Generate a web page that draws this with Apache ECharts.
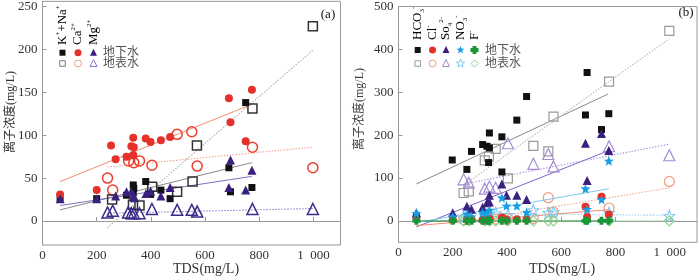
<!DOCTYPE html>
<html><head><meta charset="utf-8">
<script src="https://cdn.jsdelivr.net/npm/echarts@6/dist/echarts.min.js"></script>
<style>html,body{margin:0;padding:0;background:#fff}#c{width:700px;height:276px}</style>
</head><body><div id="c"></div>
<script>
// ---------- tick values ----------
const xTicks = [0, 200, 400, 600, 800, 1000];
const yTicksA = [0, 50, 100, 150, 200, 250];
const yTicksB = [0, 100, 200, 300, 400, 500];

// ---------- panel (a) data: [TDS, concentration] ----------
const knaGround = [[65,27],[200,26],[310,30],[335,42],[337,38],[335,33],[381,46],[399,31],[437,36],[471,26],[688,62],[694,34],[750,138],[773,39]];
const knaSurface = [[257,25],[334,19],[358,18],[405,40],[497,34],[554,46],[570,88],[775,131],[998,227]];
const caGround = [[65,31],[200,36],[253,88],[270,72],[310,75],[328,87],[335,97],[337,86],[335,77],[381,96],[399,92],[437,94],[471,98],[688,143],[694,115],[750,93],[773,153]];
const caSurface = [[240,50],[259,36],[318,70],[337,68],[358,70],[404,65],[497,101],[551,104],[571,64],[775,86],[998,62]];
const mgGround = [[65,26],[200,26],[270,29],[310,34],[328,34],[336,30],[338,27],[382,32],[399,35],[437,29],[471,39],[688,39],[694,71],[750,36],[773,59]];
const mgSurface = [[240,10],[259,12],[316,10],[328,9],[337,9],[358,9],[404,14],[497,13],[551,13],[571,11],[775,14],[998,14]];
// trend lines (a), endpoints
const knaGroundFit = [[65,13],[773,68]];
const knaSurfaceFit = [[239,-8],[998,199]];
const caGroundFit = [[65,46],[773,136]];
const caSurfaceFit = [[239,63],[998,86]];
const mgGroundFit = [[65,18],[773,52]];
const mgSurfaceFit = [[239,9],[998,14.5]];

// ---------- panel (b) data ----------
const hco3Ground = [[66,9],[198,142],[252,120],[269,162],[310,178],[326,174],[335,205],[335,170],[332,136],[381,196],[381,114],[436,235],[472,290],[689,247],[695,346],[748,213],[775,250]];
const hco3Surface = [[240,65],[259,69],[318,141],[333,150],[358,168],[403,99],[497,175],[552,162],[571,243],[776,325],[998,443]];
const clGround = [[66,8],[200,2],[252,4],[269,3],[310,2],[326,3],[335,5],[381,8],[398,3],[436,4],[472,3],[689,33],[695,9],[748,56],[775,15]];
const clSurface = [[240,3],[259,3],[318,4],[335,3],[358,4],[403,5],[497,6],[552,54],[571,20],[776,30],[998,92]];
const so4Ground = [[66,19],[200,19],[252,34],[269,27],[310,32],[326,42],[335,60],[335,44],[381,86],[398,60],[436,60],[472,50],[689,181],[695,94],[748,204],[775,164]];
const so4Surface = [[240,97],[259,89],[318,75],[335,80],[358,77],[403,181],[497,133],[552,156],[571,127],[776,174],[998,153]];
const no3Ground = [[66,18],[200,10],[252,16],[269,10],[310,19],[326,18],[335,25],[381,54],[398,35],[436,35],[472,20],[689,75],[695,27],[748,50],[775,140]];
const no3Surface = [[240,8],[259,16],[318,12],[335,16],[358,18],[403,14],[497,25],[552,19],[571,21],[776,19],[998,12]];
const fGround = [[66,0],[200,0],[252,0],[269,0],[310,0],[326,0],[335,0],[381,0],[398,0],[436,0],[472,0],[689,0],[695,0],[748,0],[775,0]];
const fSurface = [[240,0],[259,0],[318,0],[335,0],[358,0],[403,0],[497,0],[552,0],[571,0],[776,0],[998,0]];
// trend lines (b)
const hco3GroundFit = [[66,86],[773,296]];
const hco3SurfaceFit = [[240,83],[998,425]];
const clGroundFit = [[66,-11],[775,26]];
const clSurfaceFit = [[240,-2],[998,77]];
const so4GroundFit = [[66,-14],[775,164]];
const so4SurfaceFit = [[240,86],[998,179]];
const no3GroundFit = [[66,-4],[775,75]];
const no3SurfaceFit = [[240,17],[998,13]];
const fGroundFit = [[66,0],[775,0]];
const fSurfaceFit = [[240,0],[998,0]];

// ---------- helpers ----------
function starPts(cx, cy, R, r) {
  const p = [];
  for (let i = 0; i < 10; i++) {
    const a = (-90 + i * 36) * Math.PI / 180, rr = i % 2 ? r : R;
    p.push([cx + rr * Math.cos(a), cy + rr * Math.sin(a)]);
  }
  return p;
}
const STAR = 'path://' + starPts(0, 0, 10, 4.2).map((q, i) => (i ? 'L' : 'M') + q[0].toFixed(2) + ',' + q[1].toFixed(2)).join(' ') + 'Z';
const CROSS = 'path://M-2.4,-5L2.4,-5L2.4,-2.4L5,-2.4L5,2.4L2.4,2.4L2.4,5L-2.4,5L-2.4,2.4L-5,2.4L-5,-2.4L-2.4,-2.4Z';

const series = [];
function line(g, data, color, dotted) {
  series.push({type: 'line', xAxisIndex: g, yAxisIndex: g, data, symbol: 'none', silent: true, z: 1,
    lineStyle: {color, width: dotted ? 1.1 : 1, type: dotted ? [1.5, 1.5] : 'solid'}});
}
function filled(g, data, symbol, size, color) {
  series.push({type: 'scatter', xAxisIndex: g, yAxisIndex: g, data, symbol, symbolSize: size, z: 3,
    itemStyle: {color, opacity: 1}});
}
function open(g, data, symbol, size, color, bw) {
  series.push({type: 'scatter', xAxisIndex: g, yAxisIndex: g, data, symbol, symbolSize: size, z: 2,
    itemStyle: {color: 'rgba(255,255,255,0)', borderColor: color, borderWidth: bw || 1.4, opacity: 1}});
}

// panel a
line(0, caGroundFit, '#f28c74', false);
line(0, caSurfaceFit, '#f6a690', true);
line(0, knaGroundFit, '#8a8a8a', false);
line(0, knaSurfaceFit, '#b0b0b0', true);
line(0, mgGroundFit, '#8070c0', false);
line(0, mgSurfaceFit, '#8f7fd0', true);
open(0, caSurface, 'circle', 10, '#ec3e2c', 1.5);
open(0, knaSurface, 'rect', 9, '#333333', 1.5);
open(0, mgSurface, 'triangle', 11, '#3b2a88', 1.5);
filled(0, knaGround, 'rect', 7, '#111111');
filled(0, caGround, 'circle', 8, '#e6302a');
filled(0, mgGround, 'triangle', 9, '#3a1f80');

// panel b
line(1, hco3GroundFit, '#8a8a8a', false);
line(1, hco3SurfaceFit, '#b8b8b8', true);
line(1, so4GroundFit, '#7d64c4', false);
line(1, so4SurfaceFit, '#a694d8', true);
line(1, clGroundFit, '#f28c74', false);
line(1, clSurfaceFit, '#f6a690', true);
line(1, no3GroundFit, '#7ccaf0', false);
line(1, no3SurfaceFit, '#8fd2f2', true);
line(1, fGroundFit, '#2a9c48', false);
line(1, fSurfaceFit, '#90d090', true);
open(1, hco3Surface, 'rect', 9, '#9a9a9a', 1.2);
open(1, clSurface, 'circle', 10, '#f39a80', 1.2);
open(1, so4Surface, 'triangle', 11, '#a38bd4', 1.2);
open(1, no3Surface, STAR, 11, '#80caf0', 1.1);
open(1, fSurface, 'diamond', 10, '#8fd08f', 1.1);
filled(1, hco3Ground, 'rect', 7, '#111111');
filled(1, clGround, 'circle', 8, '#e8302a');
filled(1, so4Ground, 'triangle', 9, '#3a1f80');
filled(1, no3Ground, STAR, 10, '#1a9ee2');
filled(1, fGround, CROSS, 8, '#1a9638');

// ---------- axes ----------
const FONT = '"Liberation Serif","Noto Sans CJK SC",serif';
const Y_TITLE = '离子浓度(mg/L)';
function xAxis(g) {
  return {type: 'value', gridIndex: g, min: 0, max: 1100,
    axisLine: {show: true, lineStyle: {color: '#999'}},
    axisTick: {show: true, inside: true, length: 4, customValues: xTicks, lineStyle: {color: '#999'}},
    axisLabel: {customValues: xTicks, color: '#333', fontFamily: FONT, fontSize: 13, margin: 4,
      formatter: v => v >= 1000 ? String(v).replace(/^(\d)(\d{3})$/, '$1\u2002$2') : String(v)},
    splitLine: {show: false}};
}
function yAxis(g, min, max, ticks) {
  return {type: 'value', gridIndex: g, min, max,
    axisLine: {show: true, lineStyle: {color: '#999'}},
    axisTick: {show: true, inside: true, length: 4, customValues: ticks, lineStyle: {color: '#999'}},
    axisLabel: {customValues: ticks, color: '#333', fontFamily: FONT, fontSize: 13, margin: 5},
    splitLine: {show: false}};
}

// ---------- legend / titles (graphic) ----------
const G = [];
const rich = {
  m: {fontFamily: FONT, fontSize: 13, color: '#111', lineHeight: 16},
  s: {fontFamily: FONT, fontSize: 7, color: '#111', lineHeight: 16, verticalAlign: 'top'},
  b: {fontFamily: FONT, fontSize: 7, color: '#111', lineHeight: 16, verticalAlign: 'bottom'}
};
function vLabel(x, y, text) {
  G.push({type: 'text', x, y, rotation: Math.PI / 2, z: 100,
    style: {text, rich, align: 'left', verticalAlign: 'middle'}});
}
function hText(x, y, text, size, color, align, rot) {
  G.push({type: 'text', x, y, rotation: rot || 0, z: 100,
    style: {text, fontFamily: FONT, fontSize: size, fill: color, align: align || 'left', verticalAlign: 'middle'}});
}
function lgRect(x, y, s, fill, stroke) { G.push({type: 'rect', shape: {x: x - s / 2, y: y - s / 2, width: s, height: s}, style: {fill: fill || 'none', stroke: stroke || null, lineWidth: 1}}); }
function lgCircle(x, y, r, fill, stroke) { G.push({type: 'circle', shape: {cx: x, cy: y, r}, style: {fill: fill || 'none', stroke: stroke || null, lineWidth: 1}}); }
function lgTri(x, y, s, fill, stroke) { G.push({type: 'polygon', shape: {points: [[x, y - s / 2], [x + s / 2, y + s / 2], [x - s / 2, y + s / 2]]}, style: {fill: fill || 'none', stroke: stroke || null, lineWidth: 1}}); }
function lgStar(x, y, R, fill, stroke) { G.push({type: 'polygon', shape: {points: starPts(x, y, R, R * 0.42)}, style: {fill: fill || 'none', stroke: stroke || null, lineWidth: 1}}); }
function lgDiamond(x, y, s, fill, stroke) { G.push({type: 'polygon', shape: {points: [[x, y - s / 2], [x + s / 2, y], [x, y + s / 2], [x - s / 2, y]]}, style: {fill: fill || 'none', stroke: stroke || null, lineWidth: 1}}); }
function lgCross(x, y, s, fill) { const a = s / 2, b = s * 0.24; G.push({type: 'polygon', shape: {points: [[x - b, y - a], [x + b, y - a], [x + b, y - b], [x + a, y - b], [x + a, y + b], [x + b, y + b], [x + b, y + a], [x - b, y + a], [x - b, y + b], [x - a, y + b], [x - a, y - b], [x - b, y - b]]}, style: {fill}}); }

// axis titles first
hText(11, 112, Y_TITLE, 12, '#333', 'center', Math.PI / 2);
hText(360, 109, Y_TITLE, 12, '#444', 'center', Math.PI / 2);
hText(206, 269, 'TDS(mg/L)', 14, '#333', 'center');
hText(562, 269, 'TDS(mg/L)', 14, '#333', 'center');
// panel tags
hText(328, 15, '(a)', 13, '#111', 'center');
hText(686, 13, '(b)', 13, '#111', 'center');
// panel a legend
vLabel(62.5, 45, '{m|K}{s|+}{m|+Na}{s|+}');
vLabel(78, 45, '{m|Ca}{s|2+}');
vLabel(93.5, 45, '{m|Mg}{s|2+}');
lgRect(62.5, 52.7, 6, '#111');
lgCircle(78, 52.7, 3.5, '#e6302a');
lgTri(93.5, 52.3, 7, '#3a1f80');
hText(103, 53, '地下水', 12, '#555');
lgRect(62.5, 63.5, 5.5, null, '#777');
lgCircle(78, 63.5, 3.5, null, '#f39a80');
lgTri(93.5, 63, 7, null, '#8a7ccc');
hText(103, 64, '地表水', 12, '#555');
// panel b legend
vLabel(417.7, 40, '{m|HCO}{b|3}{s|-}');
vLabel(432.5, 40, '{m|Cl}{s|-}');
vLabel(446, 40, '{m|So}{b|4}{s|2-}');
vLabel(460.5, 40, '{m|NO}{b|3}{s|-}');
vLabel(474.5, 40, '{m|F}{s|-}');
lgRect(417.7, 50, 6, '#111');
lgCircle(432.5, 50, 3.5, '#e8302a');
lgTri(446, 49.6, 7, '#3a1f80');
lgStar(460.5, 50, 4.2, '#1a9ee2');
lgCross(474.5, 50, 8, '#1a9638');
hText(485, 50.5, '地下水', 12, '#555');
lgRect(417.7, 63.5, 5.5, null, '#999');
lgCircle(432.5, 63.5, 3.5, null, '#f39a80');
lgTri(446, 63, 7, null, '#a38bd4');
lgStar(460.5, 63.5, 4.4, null, '#80caf0');
lgDiamond(474.5, 63.5, 7, null, '#8fd08f');
hText(485, 64, '地表水', 12, '#555');

const chart = echarts.init(document.getElementById('c'), null, {renderer: 'canvas'});
chart.setOption({
  animation: false,
  backgroundColor: '#fff',
  grid: [
    {left: 42.5, top: 1, width: 298, height: 244, show: true, borderColor: '#999', borderWidth: 1},
    {left: 398.5, top: 1.7, width: 298.5, height: 240.6, show: true, borderColor: '#999', borderWidth: 1}
  ],
  xAxis: [xAxis(0), xAxis(1)],
  yAxis: [yAxis(0, -28, 256, yTicksA), yAxis(1, -50, 500, yTicksB)],
  series,
  graphic: G
});
</script></body></html>
